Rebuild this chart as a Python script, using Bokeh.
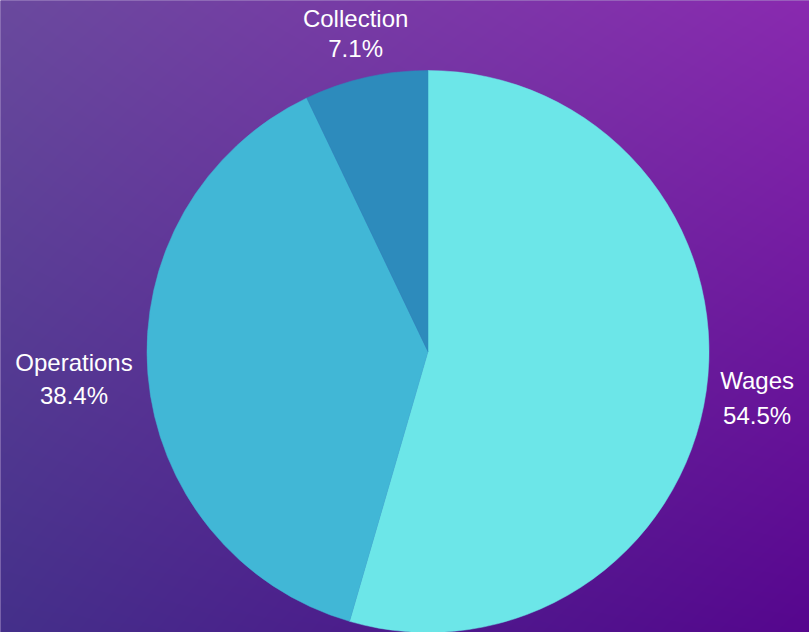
import numpy as np
from bokeh.plotting import figure
from bokeh.models import ColumnDataSource, Range1d
from bokeh.embed import file_html
from bokeh.resources import INLINE
from bokeh.core.properties import value

# ---- data ----
categories = ["Wages", "Operations", "Collection"]
shares = [54.5, 38.4, 7.1]
pct_labels = ["54.5%", "38.4%", "7.1%"]
colors = ["#6ce6e8", "#41b7d6", "#2d8bbc"]

# ---- layout / style ----
W, H = 809, 632
cx, cy, R = 427.5, H - 351, 281
pad = 10
label_dx = [41, -64, -8]          # screen px horizontal shift of label block
name_dy = [-12, -13, -49.5]       # screen px (down positive) baseline of name line
pct_dy = [23, 20.3, -19.5]        # screen px baseline of percentage line

# background gradient corners
tl = np.array([0x6a, 0x4a, 0x9e], float)
tr = np.array([0x8a, 0x2a, 0xb0], float)
bl = np.array([0x44, 0x30, 0x8a], float)
br = np.array([0x56, 0x06, 0x8e], float)

u = np.linspace(0, 1, W)[None, :, None]
v = np.linspace(0, 1, H)[:, None, None]   # row 0 = bottom
top = tl * (1 - u) + tr * u
bot = bl * (1 - u) + br * u
rgb = bot * (1 - v) + top * v
rgb = np.clip(rgb, 0, 255).astype(np.uint32)
img = (255 << 24) | (rgb[..., 2] << 16) | (rgb[..., 1] << 8) | rgb[..., 0]
img = img.astype(np.uint32)

p = figure(width=W, height=H, output_backend="svg", toolbar_location=None,
           x_range=Range1d(0, W), y_range=Range1d(0, H),
           min_border=0, min_border_left=0, min_border_right=0,
           min_border_top=0, min_border_bottom=0)
p.axis.visible = False
p.grid.visible = False
p.outline_line_color = None
p.border_fill_color = "#5a2a98"
p.background_fill_color = "#5a2a98"

p.image_rgba(image=[img], x=-3, y=-3, dw=W + 6, dh=H + 6)

frac = np.array(shares) / sum(shares)
cum = np.cumsum(frac)
prev = cum - frac
start = np.pi / 2 - 2 * np.pi * prev
end = np.pi / 2 - 2 * np.pi * cum
mid = (start + end) / 2

src = ColumnDataSource(dict(start=start, end=end, color=colors, cat=categories))
p.wedge(x=cx, y=cy, radius=R, start_angle="start", end_angle="end",
        direction="clock", fill_color="color", line_color="color",
        line_width=0.5, source=src)

ax = cx + (R + pad) * np.cos(mid)
ay = cy + (R + pad) * np.sin(mid)

for i in range(len(categories)):
    p.text(x=[ax[i]], y=[ay[i]], text=[categories[i]], x_offset=label_dx[i],
           y_offset=name_dy[i], text_align="center", text_baseline="alphabetic",
           text_color="white", text_font=value("Liberation Sans"),
           text_font_size="24px")
    p.text(x=[ax[i]], y=[ay[i]], text=[pct_labels[i]], x_offset=label_dx[i],
           y_offset=pct_dy[i], text_align="center", text_baseline="alphabetic",
           text_color="white", text_font=value("Liberation Sans"),
           text_font_size="24px")

html = file_html(p, INLINE)
html = html.replace("<head>", "<head><style>html,body{margin:0;padding:0;overflow:hidden;}</style>", 1)
open("out.html", "w").write(html)
